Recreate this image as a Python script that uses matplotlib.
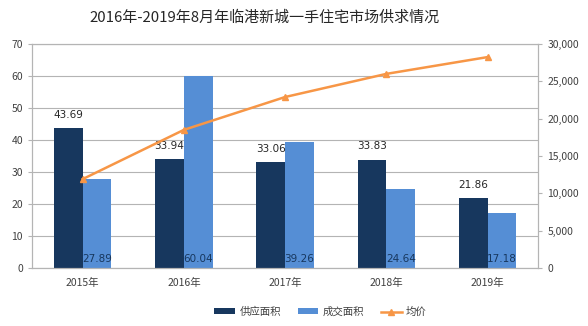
import matplotlib
matplotlib.use("Agg")
import matplotlib.pyplot as plt
from matplotlib.ticker import FuncFormatter, MultipleLocator
import numpy as np

plt.rcParams['font.family'] = ['Noto Sans CJK SC', 'DejaVu Sans']

years = ["2015年", "2016年", "2017年", "2018年", "2019年"]
supply_area = [43.69, 33.94, 33.06, 33.83, 21.86]
deal_area = [27.89, 60.04, 39.26, 24.64, 17.18]
avg_price = [11900, 18500, 22900, 26000, 28250]

dark = "#17375E"
light = "#558ED5"
orange = "#F79646"
text_c = "#404040"

fig = plt.figure(figsize=(5.88, 3.26), dpi=100)
ax = fig.add_axes([0.0544, 0.178, 0.861, 0.687])
ax2 = ax.twinx()

x = np.arange(len(years))
w = 0.285
b1 = ax.bar(x - w / 2, supply_area, w, color=dark, label="供应面积", zorder=2)
b2 = ax.bar(x + w / 2, deal_area, w, color=light, label="成交面积", zorder=2)

for xi, v in zip(x, supply_area):
    ax.text(xi - w / 2, v + 2.6, f"{v:.2f}", ha="center", va="bottom",
            fontsize=7.5, color="#262626", family="DejaVu Sans")
for xi, v in zip(x, deal_area):
    ax.text(xi + w / 2, 1.2, f"{v:.2f}", ha="center", va="bottom",
            fontsize=7.5, color=dark, family="DejaVu Sans")

ln, = ax2.plot(x, avg_price, color=orange, lw=1.8, marker="^", ms=5,
               label="均价", zorder=3)

ax.set_xlim(-0.5, len(years) - 0.5)
ax.set_ylim(0, 70)
ax.yaxis.set_major_locator(MultipleLocator(10))
ax2.set_ylim(0, 30000)
ax2.yaxis.set_major_locator(MultipleLocator(5000))
ax2.yaxis.set_major_formatter(FuncFormatter(lambda v, p: f"{int(v):,}"))

ax.grid(axis="y", color="#B4B4B4", lw=0.8, zorder=0)
ax.set_axisbelow(True)
ax.set_xticks(x)
ax.set_xticklabels(years)

for a in (ax, ax2):
    for s in a.spines.values():
        s.set_color("#B4B4B4")
        s.set_linewidth(0.8)
    a.tick_params(axis="both", colors="#B4B4B4", labelcolor=text_c,
                  labelsize=7.5, length=3, width=0.8)
ax.tick_params(axis="x", length=0, pad=7)
ax2.set_zorder(ax.get_zorder() + 1)
ax2.patch.set_visible(False)

fig.text(0.449, 0.945, "2016年-2019年8月年临港新城一手住宅市场供求情况",
         ha="center", va="center", fontsize=10.8, color="#262626")

fig.legend(handles=[b1, b2, ln], loc="center", bbox_to_anchor=(0.545, 0.043),
           ncol=3, frameon=False, fontsize=7.5, handlelength=2.0,
           handleheight=0.5, columnspacing=1.6, handletextpad=0.4,
           labelcolor=text_c)

fig.savefig("out.png", dpi=100)
